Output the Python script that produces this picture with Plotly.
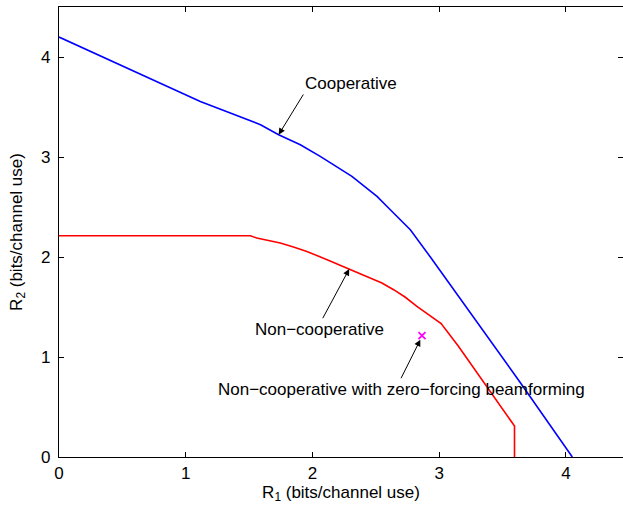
import plotly.graph_objects as go

coop_r1 = [0.0, 0.56, 1.115, 1.59, 1.733, 1.904, 2.061, 2.311, 2.509, 2.614, 2.772, 2.93, 3.18, 3.639, 4.05]
coop_r2 = [4.2, 3.873, 3.556, 3.323, 3.223, 3.123, 3.006, 2.806, 2.606, 2.473, 2.273, 2.0, 1.56, 0.745, 0.0]

nc_r1 = [0.0, 1.51, 1.56, 1.60, 1.66, 1.746, 1.85, 1.956, 2.12, 2.285, 2.42, 2.548, 2.64, 2.73, 2.824, 2.916, 3.015, 3.15, 3.59, 3.594, 3.594]
nc_r2 = [2.213, 2.213, 2.19, 2.18, 2.16, 2.14, 2.10, 2.056, 1.97, 1.88, 1.81, 1.74, 1.673, 1.60, 1.506, 1.423, 1.335, 1.11, 0.323, 0.31, 0.0]

zf_r1 = [2.864]
zf_r2 = [1.213]

x_ticks = [0, 1, 2, 3, 4]
y_ticks = [0, 1, 2, 3, 4]

FONT = "Liberation Sans, Arial, Helvetica, sans-serif"

fig = go.Figure()
fig.add_trace(go.Scatter(x=coop_r1, y=coop_r2, mode="lines",
                         line=dict(color="#0000ff", width=1.6), showlegend=False))
fig.add_trace(go.Scatter(x=nc_r1, y=nc_r2, mode="lines",
                         line=dict(color="#ff0000", width=1.6), showlegend=False))
fig.add_trace(go.Scatter(x=zf_r1, y=zf_r2, mode="markers",
                         marker=dict(symbol="x-thin", size=7, color="#ff00ff",
                                     line=dict(color="#ff00ff", width=1.8)),
                         showlegend=False))

# arrows (tip at x,y ; tail at ax,ay)
arrows = [
    (1.733, 3.223, 1.935, 3.64),
    (2.29, 1.88, 2.075, 1.373),
    (2.851, 1.173, 2.693, 0.773),
]
for x, y, ax, ay in arrows:
    fig.add_annotation(x=x, y=y, ax=ax, ay=ay, xref="x", yref="y", axref="x", ayref="y",
                       text="", showarrow=True, arrowhead=2, arrowsize=1.3,
                       arrowwidth=1, arrowcolor="black")

labels = [
    (2.302, 3.74, "Cooperative"),
    (2.054, 1.273, "Non\u2212cooperative"),
    (2.70, 0.673, "Non\u2212cooperative with zero\u2212forcing beamforming"),
]
for x, y, t in labels:
    fig.add_annotation(x=x, y=y, xref="x", yref="y", text=t, showarrow=False,
                       font=dict(family=FONT, size=17, color="black"),
                       xanchor="center", yanchor="middle")

axis_common = dict(showline=True, linecolor="black", linewidth=1.2, mirror="ticks",
                   ticks="inside", ticklen=5, tickcolor="black", tickwidth=1,
                   showgrid=False, zeroline=False,
                   tickfont=dict(family=FONT, size=17, color="black"))

fig.update_xaxes(range=[0, 4.45], tickvals=x_ticks, ticktext=[str(v) for v in x_ticks],
                 title=dict(text="R<sub>1</sub> (bits/channel use)", standoff=4,
                            font=dict(family=FONT, size=17, color="black")),
                 **axis_common)
fig.update_yaxes(range=[0, 4.5], tickvals=y_ticks, ticktext=[str(v) for v in y_ticks],
                 ticklabelstandoff=4,
                 title=dict(text="R<sub>2</sub> (bits/channel use)", standoff=14,
                            font=dict(family=FONT, size=17, color="black")),
                 **axis_common)

fig.update_layout(width=623, height=505, plot_bgcolor="white", paper_bgcolor="white",
                  margin=dict(l=59, r=0, t=7, b=48), font=dict(family=FONT, size=17))

fig.write_html("out.html", config={"displayModeBar": False},
               post_script="document.body.style.margin='0';document.body.style.overflow='hidden';")
